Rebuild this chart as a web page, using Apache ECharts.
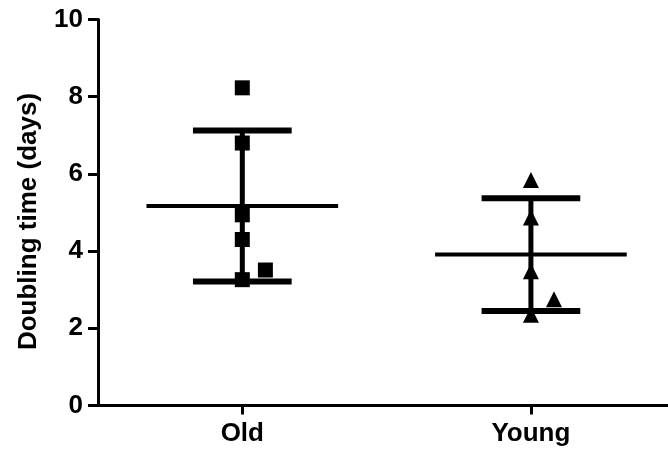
<!DOCTYPE html>
<html><head><meta charset="utf-8">
<script src="https://cdn.jsdelivr.net/npm/echarts@6/dist/echarts.min.js"></script>
<style>html,body{margin:0;padding:0;background:#fff}#c{width:668px;height:452px}</style>
</head><body><div id="c"></div>
<script>
// ---- data ----
const categories = ['Old', 'Young'];
const oldValues = [8.23, 6.80, 4.94, 4.30, 3.51, 3.26];
const oldJitter = [0, 0, 0, 0, 0.08, 0];
const youngValues = [5.84, 4.87, 3.48, 2.75, 2.35];
const youngJitter = [0, 0, 0, 0.08, 0];
const meanValues = [5.17, 3.91];
const sdValues = [1.955, 1.46];
const yTicks = [0, 2, 4, 6, 8, 10];
const catPositions = categories.map((c, i) => i + 1);

const FONT = '"Liberation Sans", Arial, Helvetica, sans-serif';
const chart = echarts.init(document.getElementById('c'), null, {renderer: 'canvas'});

const oldData = oldValues.map((v, i) => [1 + oldJitter[i], v]);
const youngData = youngValues.map((v, i) => [2 + youngJitter[i], v]);
const summaryData = meanValues.map((m, i) => [i + 1, m, sdValues[i]]);

chart.setOption({
  animation: false,
  backgroundColor: '#fff',
  grid: {left: 98, right: 0, top: 19.5, bottom: 46.5, containLabel: false},
  xAxis: {
    type: 'value', min: 0.5, max: 2.475,
    axisLine: {show: true, lineStyle: {color: '#000', width: 3}},
    axisTick: {show: true, customValues: catPositions, length: 9, lineStyle: {color: '#000', width: 3}},
    axisLabel: {
      customValues: catPositions,
      formatter: (v) => categories[Math.round(v) - 1] || '',
      color: '#000', fontFamily: FONT, fontWeight: 'bold', fontSize: 26, margin: 15
    },
    splitLine: {show: false}
  },
  yAxis: {
    type: 'value', min: yTicks[0], max: yTicks[yTicks.length - 1], interval: 2,
    name: 'Doubling time (days)',
    nameLocation: 'middle', nameGap: 56,
    nameTextStyle: {color: '#000', fontFamily: FONT, fontWeight: 'bold', fontSize: 26, padding: [0, 18, 0, 0]},
    axisLine: {show: true, lineStyle: {color: '#000', width: 3}},
    axisTick: {show: true, length: 10, lineStyle: {color: '#000', width: 3}},
    axisLabel: {color: '#000', fontFamily: FONT, fontWeight: 'bold', fontSize: 26, margin: 15},
    splitLine: {show: false}
  },
  series: [{
    type: 'custom',
    data: summaryData,
    clip: false,
    z: 2,
    renderItem: function (params, api) {
      const x = api.value(0), m = api.value(1), s = api.value(2);
      const unit = api.size([1, 0])[0];
      const c = api.coord([x, m]);
      const top = api.coord([x, m + s]);
      const bot = api.coord([x, m - s]);
      const mh = unit * 0.332, ch = unit * 0.171;
      const st = (w) => ({stroke: '#000', lineWidth: w, fill: null});
      return {type: 'group', children: [
        {type: 'line', shape: {x1: c[0] - mh, y1: c[1], x2: c[0] + mh, y2: c[1]}, style: st(4)},
        {type: 'line', shape: {x1: c[0], y1: top[1], x2: c[0], y2: bot[1]}, style: st(5)},
        {type: 'line', shape: {x1: c[0] - ch, y1: top[1], x2: c[0] + ch, y2: top[1]}, style: st(6)},
        {type: 'line', shape: {x1: c[0] - ch, y1: bot[1], x2: c[0] + ch, y2: bot[1]}, style: st(6)}
      ]};
    }
  }, {
    type: 'scatter', data: oldData,
    symbol: 'rect', symbolSize: 15, z: 3,
    itemStyle: {color: '#000', opacity: 1}
  }, {
    type: 'scatter', data: youngData,
    symbol: 'triangle', symbolSize: 16, z: 3,
    itemStyle: {color: '#000', opacity: 1}
  }]
});
</script></body></html>
